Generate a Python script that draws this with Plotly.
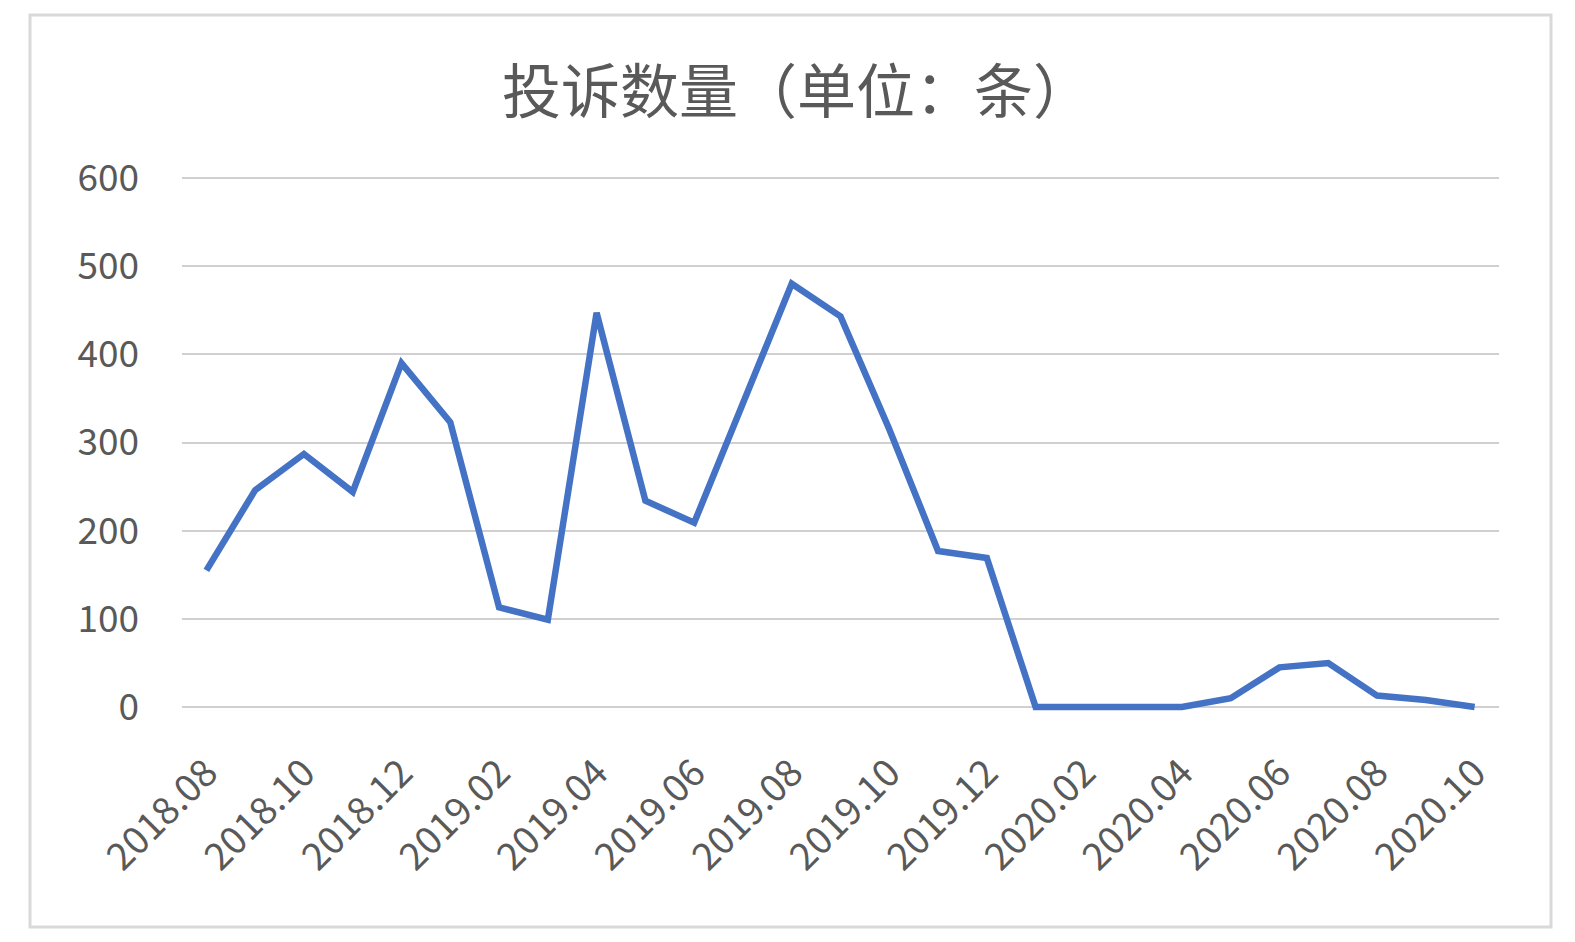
import plotly.graph_objects as go

months = ["2018.08", "2018.09", "2018.10", "2018.11", "2018.12",
          "2019.01", "2019.02", "2019.03", "2019.04", "2019.05", "2019.06",
          "2019.07", "2019.08", "2019.09", "2019.10", "2019.11", "2019.12",
          "2020.01", "2020.02", "2020.03", "2020.04", "2020.05", "2020.06",
          "2020.07", "2020.08", "2020.09", "2020.10"]
complaints = [155, 246, 287, 244, 390, 323, 113, 99, 447, 234, 209,
              345, 480, 443, 315, 177, 169, 0, 0, 0, 0, 10, 45,
              50, 13, 8, 0]
tick_labels = months[::2]
y_ticks = [0, 100, 200, 300, 400, 500, 600]
title_text = "投诉数量（单位：条）"

OFF = 8  # page body margin
W, H = 1575 - 2 * OFF, 942 - 2 * OFF
L, T = 182 - OFF, 170 - OFF
pw, ph = 1317, 545
R, B = W - L - pw, H - T - ph
Y_RANGE = [-9, 609]

def px_x(x):
    return (x - OFF - L) / pw

def px_y(y):
    return (T + ph - (y - OFF)) / ph

fig = go.Figure()
fig.add_trace(go.Scatter(
    x=months, y=complaints, mode="lines",
    line=dict(color="#4472C4", width=6.5, shape="linear"),
    hoverinfo="x+y", showlegend=False,
))

font_family = "Noto Sans CJK SC, Noto Sans, sans-serif"
fig.update_layout(
    width=W, height=H,
    margin=dict(l=L, r=R, t=T, b=B, autoexpand=False),
    paper_bgcolor="white", plot_bgcolor="white",
    title=dict(text=title_text, x=(797 - OFF) / W,
               xanchor="center", y=1 - (92 - OFF) / H,
               yanchor="middle", yref="container",
               font=dict(family=font_family, size=59, color="#595959")),
    xaxis=dict(type="category", categoryorder="array", categoryarray=months,
               range=[-0.5, len(months) - 0.5],
               tickmode="array", tickvals=tick_labels, ticktext=tick_labels,
               tickangle=-45, showgrid=False, zeroline=False, showline=False,
               ticks="", ticklabelstandoff=27,
               tickfont=dict(family=font_family, size=38, color="#595959")),
    yaxis=dict(range=Y_RANGE, tickmode="array", tickvals=y_ticks,
               showgrid=True, gridcolor="#D0D0D0", gridwidth=1.5,
               zeroline=False, showline=False, ticks="", ticklabelstandoff=42,
               tickfont=dict(family=font_family, size=37, color="#595959")),
    shapes=[dict(type="rect", xref="paper", yref="paper",
                 x0=px_x(30), x1=px_x(1551), y0=px_y(927), y1=px_y(15),
                 line=dict(color="#D9D9D9", width=3), fillcolor="rgba(0,0,0,0)",
                 layer="below")],
)

fig.write_html("out.html")
